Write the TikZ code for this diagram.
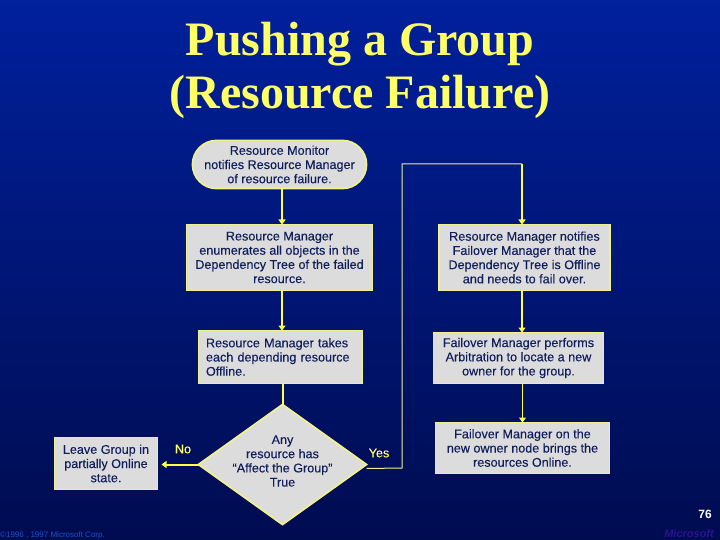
\documentclass[tikz,border=0pt]{standalone}
\usepackage{fontspec}
\usepackage{xcolor}
\usepackage{tikz}
\usetikzlibrary{arrows.meta,positioning,shapes.geometric,calc}
\setmainfont{Liberation Sans}
\newfontfamily\titlefont{Liberation Serif}
\newfontfamily\boxfont[FakeBold=0.2]{Liberation Sans}
\definecolor{slideTop}{HTML}{00209C}
\definecolor{slideMid}{HTML}{001A78}
\definecolor{slideBot}{HTML}{000C50}
\definecolor{boxFill}{HTML}{DCDCDC}
\definecolor{boxEdge}{HTML}{F0F08C}
\definecolor{boxText}{HTML}{101E5C}
\definecolor{arrowYel}{HTML}{FFFF4C}
\definecolor{titleYel}{HTML}{FFFF66}
\definecolor{copyBlue}{HTML}{2050C8}
\definecolor{logoViolet}{HTML}{2E1094}

\begin{document}
\begin{tikzpicture}[
    x=1pt, y=-1pt,
    font=\boxfont\fontsize{12.6}{14.2}\selectfont,
    >=Stealth,
    box/.style={draw=boxEdge, line width=1.8pt, fill=boxFill, text=boxText, align=center,
                inner sep=0pt, outer sep=0pt},
    pill/.style={box, rounded corners=24pt},
    decision/.style={diamond, box, minimum width=168pt, minimum height=120pt},
    arr/.style={-{Triangle[length=5pt,width=7pt]}, line width=2pt, arrowYel},
    plain/.style={line width=2pt, arrowYel},
    thinline/.style={line width=1pt, boxEdge},
    thinarr/.style={-{Triangle[length=5pt,width=7pt]}, line width=1.1pt, arrowYel},
    tag/.style={text=titleYel, inner sep=0pt}
]
\shade[top color=slideTop, middle color=slideMid, bottom color=slideBot] (0,0) rectangle (720,540);
\useasboundingbox (0,0) rectangle (720,540);

\node[text=titleYel, align=center, inner sep=0pt, font=\titlefont\bfseries\fontsize{48}{53}\selectfont] (title)
    at (360,70) {Pushing a Group\\(Resource Failure)};

% left column
\node[pill, minimum width=174pt, minimum height=48pt] (monitor) at (279.5,164.5)
    {Resource Monitor\\notifies Resource Manager\\of resource failure.};
\node[box, minimum width=186pt, minimum height=66pt, below=36pt of monitor] (enum)
    {Resource Manager\\enumerates all objects in the\\Dependency Tree of the failed\\resource.};
\node[box, align=left, text width=149pt, minimum width=164pt, minimum height=53pt, below=40pt of enum, xshift=1pt] (takes)
    {Resource Manager takes\\each depending resource\\Offline.};
\node[decision, below=21pt of takes, xshift=2pt,
      label={[text=boxText, align=center, yshift=3.5pt]center:{Any\\resource has\\“Affect the Group”\\True}}] (dec) {};
\node[box, minimum width=103pt, minimum height=52pt] (leave) at (106,463.5)
    {Leave Group in\\partially Online\\state.};

% right column
\node[box, minimum width=171pt, minimum height=66pt] (notify) at (524.5,257.5)
    {Resource Manager notifies\\Failover Manager that the\\Dependency Tree is Offline\\and needs to fail over.};
\node[box, minimum width=170pt, minimum height=51pt, below=42pt of notify, xshift=-6pt] (arb)
    {Failover Manager performs\\Arbitration to locate a new\\owner for the group.};
\node[box, minimum width=174pt, minimum height=51pt, below=39pt of arb, xshift=4pt] (online)
    {Failover Manager on the\\new owner node brings the\\resources Online.};

\node[tag] (no) at (183,449) {No};
\node[tag] (yes) at (379,453) {Yes};
\node[text=white, inner sep=0pt, font=\bfseries\fontsize{12}{14}\selectfont] (page) at (705,514) {76};
\node[text=copyBlue, inner sep=0pt, anchor=west, font=\fontsize{8}{9}\selectfont] (copy) at (0,535) {\textcopyright1996 , 1997 Microsoft Corp.};
\node[text=logoViolet, inner sep=0pt, anchor=east, font=\bfseries\itshape\fontsize{11}{13}\selectfont] (logo) at (714,534) {Microsoft};

\coordinate (yesOut) at ([yshift=-4pt]dec.east);
\coordinate (bendLow) at (402,468);
\coordinate (bendTop) at (402,164);
\coordinate (notifyIn) at ([xshift=-2.5pt]notify.north);

\draw[arr] ([xshift=2.5pt]monitor.south) -- ([xshift=2.5pt]enum.north);
\draw[arr] ([xshift=2.5pt]enum.south) -- ([xshift=1.5pt]takes.north);
\draw[plain] (takes.south -| dec.north) -- (dec.north);
\draw[arr] (dec.west) -- ([xshift=4pt]dec.west -| leave.east);
\draw[thinline] (yesOut) -- (bendLow) -- (bendTop) -- (bendTop -| notifyIn);
\draw[arr] (bendTop -| notifyIn) -- (notifyIn);
\draw[arr] (notifyIn |- notify.south) -- (notifyIn |- arb.north);
\draw[thinarr] (online.north |- arb.south) -- (online.north);
\end{tikzpicture}
\end{document}
